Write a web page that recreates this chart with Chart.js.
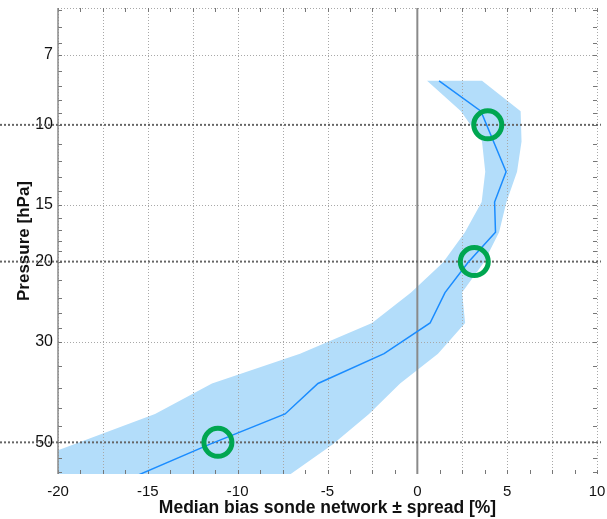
<!DOCTYPE html>
<html>
<head>
<meta charset="utf-8">
<script src="https://cdn.jsdelivr.net/npm/chart.js@4.4.0/dist/chart.umd.min.js"></script>
<style>
  html, body { margin: 0; padding: 0; background: #fff; }
</style>
</head>
<body>
<canvas id="profileChart" width="607" height="519"></canvas>
<script>
// pressure levels (hPa), about 1 km apart
const pressure   = [8.0, 9.33, 10.88, 12.68, 14.79, 17.24, 20.1, 23.4, 27.3, 31.9, 37.1, 43.3, 50.5, 58.9];
const medianBias = [1.21, 3.54, 4.24, 4.94, 4.30, 4.35, 2.82, 1.54, 0.71, -1.85, -5.53, -7.36, -11.57, -15.49];
const spreadLow  = [0.54, 2.43, 3.60, 3.78, 3.58, 2.65, 1.43, -0.35, -2.52, -6.53, -11.43, -14.6, -19.1, -23.7];
const spreadHigh = [3.60, 5.75, 5.80, 5.55, 4.96, 4.55, 3.70, 2.49, 2.66, 1.15, -0.96, -2.69, -4.70, -7.10];

// highlighted levels (green rings)
const markerP    = [10, 20, 50];
const markerBias = [3.92, 3.17, -11.1];

const yTicks  = [7, 10, 15, 20, 30, 50];
const yMinor  = [5.6, 6.1, 6.6, 7.6, 8.2, 8.8, 9.4, 11, 12, 13, 14, 16, 17, 18, 19, 22, 24, 26, 28, 34, 38, 42, 46, 54, 58];
const boldLevels = [10, 20, 50];

const FONT = '"Liberation Sans", Arial, Helvetica, sans-serif';

const medianPts = pressure.map((p, i) => ({ x: medianBias[i], y: p }));
// spread band as a closed shape: low edge going down, high edge coming back up
const bandPts = pressure.map((p, i) => ({ x: spreadLow[i], y: p }))
  .concat(pressure.map((p, i) => ({ x: spreadHigh[i], y: p })).reverse());
const markerPts = markerP.map((p, i) => ({ x: markerBias[i], y: p }));

// grid, ticks and reference lines drawn between the band and the median line
const gridPlugin = {
  id: 'profileGrid',
  beforeDatasetDraw(chart, args) {
    if (args.index !== 1) return;
    const { ctx, chartArea: a, scales: { x, y } } = chart;
    const seg = (x1, y1, x2, y2) => { ctx.beginPath(); ctx.moveTo(x1, y1); ctx.lineTo(x2, y2); ctx.stroke(); };
    ctx.save();

    // light dotted grid
    ctx.strokeStyle = '#a8a8a8';
    ctx.lineWidth = 1;
    ctx.setLineDash([1, 2]);
    for (let v = -20; v <= 10; v += 2.5) {
      if (v === 0) continue;
      const px = Math.round(x.getPixelForValue(v)) + 0.5;
      seg(px, a.top, px, a.bottom);
    }
    yTicks.forEach(p => {
      if (boldLevels.includes(p)) return;
      const py = Math.round(y.getPixelForValue(p)) + 0.5;
      seg(a.left, py, a.right, py);
    });
    seg(a.left, a.top + 0.5, a.right, a.top + 0.5);

    // small tick marks
    ctx.setLineDash([]);
    ctx.strokeStyle = '#777';
    for (let v = -20; v <= 10; v += 1.25) {
      const px = Math.round(x.getPixelForValue(v)) + 0.5;
      seg(px, a.bottom, px, a.bottom - 4);
      seg(px, a.top, px, a.top + 4);
    }
    yMinor.concat(yTicks).forEach(p => {
      const py = Math.round(y.getPixelForValue(p)) + 0.5;
      seg(a.left, py, a.left + 4, py);
      seg(a.right, py, a.right - 4, py);
    });

    // left axis and zero line
    ctx.strokeStyle = '#8a8a8a';
    ctx.lineWidth = 1.5;
    seg(a.left, a.top, a.left, a.bottom);
    ctx.lineWidth = 2;
    const x0 = x.getPixelForValue(0);
    seg(x0, a.top, x0, a.bottom);

    // dark dotted lines at highlighted levels
    ctx.strokeStyle = '#666';
    ctx.lineWidth = 2;
    ctx.setLineDash([2, 2]);
    boldLevels.forEach(p => {
      const py = y.getPixelForValue(p);
      seg(0, py, 601, py);
    });
    ctx.restore();
  }
};

const ctx = document.getElementById('profileChart').getContext('2d');
new Chart(ctx, {
  type: 'line',
  data: {
    datasets: [
      {
        label: 'Highlighted levels',
        data: markerPts,
        showLine: false,
        pointRadius: 14,
        pointBorderWidth: 5,
        pointBorderColor: '#00a651',
        pointBackgroundColor: 'rgba(0,0,0,0)',
        clip: false
      },
      {
        label: 'Median bias',
        data: medianPts,
        borderColor: '#1a8cff',
        borderWidth: 1.5,
        pointRadius: 0,
        tension: 0,
        fill: false,
        clip: 0
      },
      {
        label: 'Spread',
        data: bandPts,
        borderWidth: 0,
        borderColor: 'rgba(0,0,0,0)',
        backgroundColor: 'rgb(179,221,250)',
        pointRadius: 0,
        tension: 0,
        fill: 'shape',
        clip: 0
      }
    ]
  },
  options: {
    responsive: false,
    animation: false,
    layout: { autoPadding: false, padding: { left: 0, right: 10, top: 8, bottom: 0 } },
    plugins: {
      legend: { display: false },
      tooltip: { enabled: false }
    },
    scales: {
      x: {
        type: 'linear',
        min: -20,
        max: 10,
        grid: { display: false, drawTicks: false },
        border: { display: false },
        ticks: { stepSize: 5, padding: 9, color: '#111', font: { family: FONT, size: 15 } },
        title: {
          display: true,
          text: 'Median bias sonde network ± spread [%]',
          color: '#111',
          font: { family: FONT, size: 17.5, weight: 'bold' },
          padding: { top: 0, bottom: 0 }
        },
        afterFit: s => { s.height = 45; s.paddingLeft = 0; s.paddingRight = 0; }
      },
      y: {
        type: 'logarithmic',
        reverse: true,
        bounds: 'data',
        min: 5.53,
        max: 58.7,
        grid: { display: false, drawTicks: false },
        border: { display: false },
        afterBuildTicks: s => { s.ticks = yTicks.map(v => ({ value: v })); },
        ticks: {
          autoSkip: false,
          padding: 5,
          color: '#111',
          font: { family: FONT, size: 16 },
          callback: v => String(v)
        },
        title: {
          display: true,
          text: 'Pressure [hPa]',
          color: '#111',
          font: { family: FONT, size: 17, weight: 'bold' },
          padding: { top: 14, bottom: 0 }
        },
        afterFit: s => { s.width = 58; s.paddingTop = 0; s.paddingBottom = 0; }
      }
    }
  },
  plugins: [gridPlugin]
});
</script>
</body>
</html>
